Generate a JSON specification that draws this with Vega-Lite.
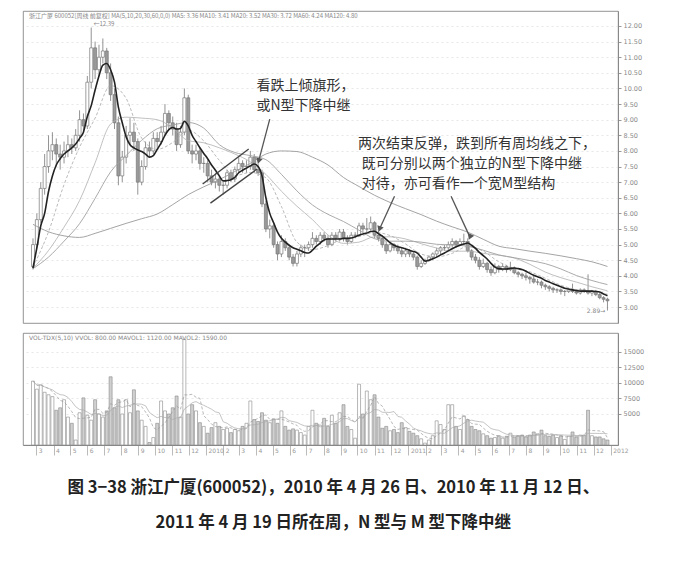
{
  "$schema": "https://vega.github.io/schema/vega-lite/v6.json",
  "background": "white",
  "padding": {"left": 22, "top": 10, "right": 8, "bottom": 5},
  "spacing": 8,
  "config": {
    "view": {"stroke": "#777", "strokeWidth": 0.8},
    "font": "DejaVu Sans",
    "axis": {"labelOverlap": false, "labelBound": false}
  },
  "title": {
    "text": ["图 3−38   浙江广厦(600052)，2010 年 4 月 26 日、2010 年 11 月 12 日、", "2011 年 4 月 19 日所在周，N 型与 M 型下降中继"],
    "orient": "bottom",
    "anchor": "middle",
    "font": "Noto Sans CJK SC",
    "fontSize": 16.5,
    "fontWeight": "bold",
    "color": "#222",
    "lineHeight": 35,
    "offset": 24
  },
  "datasets": {
    "weeks": [
      {"d":"2009-02-23","o":4.3,"h":5.2,"l":4.2,"c":5.0,"v":10300,"ma5":4.25},
      {"d":"2009-03-02","o":5.0,"h":6.0,"l":4.9,"c":5.8,"v":9000,"ma5":4.9},
      {"d":"2009-03-09","o":5.8,"h":7.0,"l":5.7,"c":6.8,"v":9700,"ma5":5.6},
      {"d":"2009-03-16","o":6.8,"h":7.9,"l":6.6,"c":7.5,"v":8500,"ma5":6.0},
      {"d":"2009-03-23","o":7.5,"h":8.5,"l":7.3,"c":8.0,"v":8100,"ma5":6.7},
      {"d":"2009-03-30","o":8.0,"h":8.6,"l":7.7,"c":8.2,"v":7800,"ma5":7.2},
      {"d":"2009-04-06","o":8.2,"h":8.4,"l":7.5,"c":7.9,"v":5600,"ma5":7.55},
      {"d":"2009-04-13","o":7.9,"h":8.2,"l":7.4,"c":7.8,"v":6000,"ma5":7.75},
      {"d":"2009-04-20","o":7.8,"h":8.3,"l":7.6,"c":8.0,"v":7300,"ma5":7.9},
      {"d":"2009-04-27","o":8.0,"h":8.5,"l":7.8,"c":8.2,"v":4500,"ma5":8.0},
      {"d":"2009-05-04","o":8.2,"h":8.4,"l":7.9,"c":8.1,"v":3500,"ma5":8.1},
      {"d":"2009-05-11","o":8.1,"h":8.7,"l":8.0,"c":8.5,"v":800,"ma5":8.22},
      {"d":"2009-05-18","o":8.5,"h":9.3,"l":8.3,"c":9.0,"v":5200,"ma5":8.4},
      {"d":"2009-05-25","o":9.0,"h":9.2,"l":8.6,"c":8.8,"v":7600,"ma5":8.6},
      {"d":"2009-06-01","o":8.8,"h":10.4,"l":8.7,"c":10.2,"v":4800,"ma5":9.1},
      {"d":"2009-06-08","o":10.2,"h":11.95,"l":10.0,"c":11.3,"v":4000,"ma5":9.45},
      {"d":"2009-06-15","o":11.3,"h":11.5,"l":10.3,"c":10.6,"v":7300,"ma5":9.95},
      {"d":"2009-06-22","o":10.6,"h":11.4,"l":10.4,"c":11.0,"v":5000,"ma5":10.4},
      {"d":"2009-06-29","o":11.0,"h":11.6,"l":10.8,"c":11.2,"v":4500,"ma5":10.75},
      {"d":"2009-07-06","o":11.2,"h":11.3,"l":10.3,"c":10.5,"v":5500,"ma5":10.8},
      {"d":"2009-07-13","o":10.5,"h":10.8,"l":9.6,"c":9.8,"v":11000,"ma5":10.6},
      {"d":"2009-07-20","o":9.8,"h":10.0,"l":8.7,"c":8.9,"v":6000,"ma5":10.2},
      {"d":"2009-07-27","o":8.9,"h":9.1,"l":6.9,"c":7.2,"v":7300,"ma5":9.4},
      {"d":"2009-08-03","o":7.2,"h":8.0,"l":7.0,"c":7.8,"v":5000,"ma5":8.9},
      {"d":"2009-08-10","o":7.8,"h":8.8,"l":7.6,"c":8.5,"v":7300,"ma5":8.45},
      {"d":"2009-08-17","o":8.5,"h":9.05,"l":8.2,"c":8.6,"v":5200,"ma5":8.2},
      {"d":"2009-08-24","o":8.6,"h":8.9,"l":8.0,"c":8.3,"v":8900,"ma5":8.1},
      {"d":"2009-08-31","o":8.3,"h":8.4,"l":6.6,"c":7.0,"v":5500,"ma5":8.03},
      {"d":"2009-09-07","o":7.0,"h":7.7,"l":6.9,"c":7.5,"v":4000,"ma5":7.98},
      {"d":"2009-09-14","o":7.5,"h":8.3,"l":7.4,"c":8.1,"v":3000,"ma5":7.9},
      {"d":"2009-09-21","o":8.1,"h":8.3,"l":7.8,"c":8.0,"v":400,"ma5":7.8},
      {"d":"2009-09-28","o":8.0,"h":8.6,"l":7.9,"c":8.4,"v":1200,"ma5":7.85},
      {"d":"2009-10-05","o":8.4,"h":8.6,"l":8.1,"c":8.3,"v":3500,"ma5":8.05},
      {"d":"2009-10-12","o":8.3,"h":8.8,"l":8.2,"c":8.6,"v":7100,"ma5":8.25},
      {"d":"2009-10-19","o":8.6,"h":9.5,"l":8.5,"c":9.2,"v":5500,"ma5":8.5},
      {"d":"2009-10-26","o":9.2,"h":9.3,"l":8.7,"c":8.9,"v":5000,"ma5":8.68},
      {"d":"2009-11-02","o":8.9,"h":9.1,"l":8.5,"c":8.7,"v":6000,"ma5":8.75},
      {"d":"2009-11-09","o":8.7,"h":8.9,"l":8.0,"c":8.2,"v":7900,"ma5":8.7},
      {"d":"2009-11-16","o":8.2,"h":8.8,"l":8.1,"c":8.6,"v":4500,"ma5":8.72},
      {"d":"2009-11-23","o":8.6,"h":10.0,"l":8.5,"c":9.7,"v":17000,"ma5":8.95},
      {"d":"2009-11-30","o":9.7,"h":9.8,"l":7.9,"c":8.0,"v":5000,"ma5":8.8},
      {"d":"2009-12-07","o":8.0,"h":8.2,"l":7.6,"c":7.9,"v":6500,"ma5":8.5},
      {"d":"2009-12-14","o":7.9,"h":8.2,"l":7.7,"c":8.0,"v":5500,"ma5":8.3},
      {"d":"2009-12-21","o":8.0,"h":8.1,"l":7.4,"c":7.6,"v":3600,"ma5":8.1},
      {"d":"2009-12-28","o":7.6,"h":7.8,"l":7.3,"c":7.6,"v":3000,"ma5":7.92},
      {"d":"2010-01-04","o":7.6,"h":7.7,"l":7.0,"c":7.2,"v":1900,"ma5":7.75},
      {"d":"2010-01-11","o":7.2,"h":7.4,"l":6.9,"c":7.0,"v":2800,"ma5":7.55},
      {"d":"2010-01-18","o":7.0,"h":7.3,"l":6.8,"c":7.1,"v":3600,"ma5":7.38},
      {"d":"2010-01-25","o":7.1,"h":7.2,"l":6.7,"c":6.9,"v":3000,"ma5":7.2},
      {"d":"2010-02-01","o":6.9,"h":7.0,"l":6.6,"c":6.9,"v":2500,"ma5":7.04},
      {"d":"2010-02-08","o":6.9,"h":7.4,"l":6.8,"c":7.3,"v":2700,"ma5":7.05},
      {"d":"2010-02-15","o":7.3,"h":7.4,"l":7.0,"c":7.1,"v":2000,"ma5":7.08},
      {"d":"2010-02-22","o":7.1,"h":7.5,"l":7.0,"c":7.4,"v":2500,"ma5":7.15},
      {"d":"2010-03-01","o":7.4,"h":7.8,"l":7.3,"c":7.6,"v":2300,"ma5":7.3},
      {"d":"2010-03-08","o":7.6,"h":7.7,"l":7.3,"c":7.5,"v":3000,"ma5":7.38},
      {"d":"2010-03-15","o":7.5,"h":7.7,"l":7.3,"c":7.5,"v":3500,"ma5":7.45},
      {"d":"2010-03-22","o":7.5,"h":8.0,"l":7.4,"c":7.8,"v":7100,"ma5":7.52},
      {"d":"2010-03-29","o":7.8,"h":7.9,"l":7.3,"c":7.4,"v":4100,"ma5":7.58},
      {"d":"2010-04-05","o":7.4,"h":7.6,"l":7.2,"c":7.3,"v":3800,"ma5":7.5},
      {"d":"2010-04-12","o":7.3,"h":7.4,"l":6.2,"c":6.3,"v":5200,"ma5":7.2},
      {"d":"2010-04-19","o":6.3,"h":6.4,"l":5.4,"c":5.5,"v":4000,"ma5":6.5},
      {"d":"2010-04-26","o":5.5,"h":5.8,"l":5.2,"c":5.6,"v":3600,"ma5":6.0},
      {"d":"2010-05-03","o":5.6,"h":5.7,"l":4.9,"c":5.0,"v":4200,"ma5":5.7},
      {"d":"2010-05-10","o":5.0,"h":5.1,"l":4.5,"c":4.7,"v":3500,"ma5":5.4},
      {"d":"2010-05-17","o":4.7,"h":5.3,"l":4.6,"c":5.1,"v":5500,"ma5":5.2},
      {"d":"2010-05-24","o":5.1,"h":5.2,"l":4.8,"c":4.9,"v":3000,"ma5":5.08},
      {"d":"2010-05-31","o":4.9,"h":5.0,"l":4.5,"c":4.6,"v":2400,"ma5":4.98},
      {"d":"2010-06-07","o":4.6,"h":4.7,"l":4.3,"c":4.4,"v":2600,"ma5":4.9},
      {"d":"2010-06-14","o":4.4,"h":4.8,"l":4.3,"c":4.7,"v":2400,"ma5":4.85},
      {"d":"2010-06-21","o":4.7,"h":5.0,"l":4.6,"c":4.9,"v":2000,"ma5":4.8},
      {"d":"2010-06-28","o":4.9,"h":5.0,"l":4.6,"c":4.9,"v":1600,"ma5":4.75},
      {"d":"2010-07-05","o":4.9,"h":5.1,"l":4.8,"c":5.0,"v":3000,"ma5":4.73},
      {"d":"2010-07-12","o":5.0,"h":5.4,"l":4.9,"c":5.2,"v":5600,"ma5":4.82},
      {"d":"2010-07-19","o":5.2,"h":5.3,"l":5.0,"c":5.1,"v":3500,"ma5":4.95},
      {"d":"2010-07-26","o":5.1,"h":5.4,"l":5.0,"c":5.3,"v":3200,"ma5":5.05},
      {"d":"2010-08-02","o":5.3,"h":5.4,"l":5.1,"c":5.2,"v":4300,"ma5":5.15},
      {"d":"2010-08-09","o":5.2,"h":5.3,"l":4.9,"c":5.0,"v":3000,"ma5":5.18},
      {"d":"2010-08-16","o":5.0,"h":5.4,"l":4.95,"c":5.3,"v":4800,"ma5":5.18},
      {"d":"2010-08-23","o":5.3,"h":5.4,"l":5.1,"c":5.2,"v":3500,"ma5":5.18},
      {"d":"2010-08-30","o":5.2,"h":5.5,"l":5.1,"c":5.4,"v":5200,"ma5":5.18},
      {"d":"2010-09-06","o":5.4,"h":5.5,"l":5.1,"c":5.2,"v":6500,"ma5":5.2},
      {"d":"2010-09-13","o":5.2,"h":5.3,"l":5.0,"c":5.1,"v":3000,"ma5":5.2},
      {"d":"2010-09-20","o":5.1,"h":5.4,"l":5.05,"c":5.3,"v":2500,"ma5":5.21},
      {"d":"2010-09-27","o":5.3,"h":5.4,"l":5.2,"c":5.3,"v":1100,"ma5":5.25},
      {"d":"2010-10-04","o":5.3,"h":5.7,"l":5.25,"c":5.6,"v":9800,"ma5":5.3},
      {"d":"2010-10-11","o":5.6,"h":5.7,"l":5.4,"c":5.5,"v":5000,"ma5":5.34},
      {"d":"2010-10-18","o":5.5,"h":5.85,"l":5.4,"c":5.5,"v":8700,"ma5":5.37},
      {"d":"2010-10-25","o":5.5,"h":5.9,"l":5.45,"c":5.7,"v":7300,"ma5":5.42},
      {"d":"2010-11-01","o":5.7,"h":5.75,"l":5.2,"c":5.3,"v":8100,"ma5":5.43},
      {"d":"2010-11-08","o":5.3,"h":5.45,"l":5.1,"c":5.2,"v":4500,"ma5":5.35},
      {"d":"2010-11-15","o":5.2,"h":5.3,"l":4.9,"c":5.0,"v":2700,"ma5":5.27},
      {"d":"2010-11-22","o":5.0,"h":5.1,"l":4.7,"c":4.8,"v":3000,"ma5":5.17},
      {"d":"2010-11-29","o":4.8,"h":5.1,"l":4.75,"c":5.0,"v":2300,"ma5":5.06},
      {"d":"2010-12-06","o":5.0,"h":5.05,"l":4.8,"c":4.9,"v":2500,"ma5":4.98},
      {"d":"2010-12-13","o":4.9,"h":5.0,"l":4.7,"c":4.8,"v":2000,"ma5":4.93},
      {"d":"2010-12-20","o":4.8,"h":4.9,"l":4.6,"c":4.7,"v":3600,"ma5":4.9},
      {"d":"2010-12-27","o":4.7,"h":4.9,"l":4.6,"c":4.8,"v":2800,"ma5":4.86},
      {"d":"2011-01-03","o":4.8,"h":4.85,"l":4.6,"c":4.7,"v":2200,"ma5":4.82},
      {"d":"2011-01-10","o":4.7,"h":4.75,"l":4.5,"c":4.6,"v":1900,"ma5":4.78},
      {"d":"2011-01-17","o":4.6,"h":4.65,"l":4.2,"c":4.3,"v":1500,"ma5":4.73},
      {"d":"2011-01-24","o":4.3,"h":4.5,"l":4.25,"c":4.4,"v":1000,"ma5":4.6},
      {"d":"2011-01-31","o":4.4,"h":4.55,"l":4.35,"c":4.5,"v":300,"ma5":4.47},
      {"d":"2011-02-07","o":4.5,"h":4.65,"l":4.45,"c":4.6,"v":800,"ma5":4.5},
      {"d":"2011-02-14","o":4.6,"h":4.75,"l":4.5,"c":4.7,"v":1500,"ma5":4.55},
      {"d":"2011-02-21","o":4.7,"h":4.9,"l":4.6,"c":4.8,"v":3900,"ma5":4.6},
      {"d":"2011-02-28","o":4.8,"h":4.95,"l":4.7,"c":4.9,"v":3300,"ma5":4.67},
      {"d":"2011-03-07","o":4.9,"h":5.0,"l":4.8,"c":4.9,"v":2500,"ma5":4.73},
      {"d":"2011-03-14","o":4.9,"h":5.1,"l":4.8,"c":5.0,"v":6500,"ma5":4.8},
      {"d":"2011-03-21","o":5.0,"h":5.2,"l":4.9,"c":5.1,"v":6500,"ma5":4.87},
      {"d":"2011-03-28","o":5.1,"h":5.15,"l":4.9,"c":5.0,"v":3000,"ma5":4.93},
      {"d":"2011-04-04","o":5.0,"h":5.2,"l":4.95,"c":5.1,"v":2500,"ma5":4.98},
      {"d":"2011-04-11","o":5.1,"h":5.35,"l":5.0,"c":5.1,"v":4700,"ma5":5.02},
      {"d":"2011-04-18","o":5.1,"h":5.2,"l":4.75,"c":4.8,"v":4100,"ma5":5.05},
      {"d":"2011-04-25","o":4.8,"h":4.85,"l":4.5,"c":4.6,"v":3000,"ma5":4.98},
      {"d":"2011-05-02","o":4.6,"h":4.7,"l":4.4,"c":4.5,"v":2500,"ma5":4.88},
      {"d":"2011-05-09","o":4.5,"h":4.6,"l":4.2,"c":4.3,"v":2300,"ma5":4.75},
      {"d":"2011-05-16","o":4.3,"h":4.55,"l":4.25,"c":4.4,"v":1800,"ma5":4.65},
      {"d":"2011-05-23","o":4.4,"h":4.45,"l":4.1,"c":4.2,"v":1500,"ma5":4.54},
      {"d":"2011-05-30","o":4.2,"h":4.3,"l":4.0,"c":4.1,"v":1100,"ma5":4.4},
      {"d":"2011-06-06","o":4.1,"h":4.4,"l":4.05,"c":4.3,"v":1200,"ma5":4.28},
      {"d":"2011-06-13","o":4.3,"h":4.35,"l":4.1,"c":4.2,"v":1500,"ma5":4.23},
      {"d":"2011-06-20","o":4.2,"h":4.4,"l":4.15,"c":4.3,"v":1100,"ma5":4.22},
      {"d":"2011-06-27","o":4.3,"h":4.35,"l":4.1,"c":4.2,"v":1400,"ma5":4.22},
      {"d":"2011-07-04","o":4.2,"h":4.45,"l":4.15,"c":4.25,"v":1900,"ma5":4.24},
      {"d":"2011-07-11","o":4.25,"h":4.3,"l":4.05,"c":4.1,"v":1300,"ma5":4.25},
      {"d":"2011-07-18","o":4.1,"h":4.15,"l":3.95,"c":4.05,"v":1500,"ma5":4.23},
      {"d":"2011-07-25","o":4.05,"h":4.1,"l":3.9,"c":4.0,"v":1600,"ma5":4.2},
      {"d":"2011-08-01","o":4.0,"h":4.1,"l":3.85,"c":3.95,"v":1300,"ma5":4.15},
      {"d":"2011-08-08","o":3.95,"h":4.0,"l":3.75,"c":3.9,"v":1600,"ma5":4.08},
      {"d":"2011-08-15","o":3.9,"h":4.0,"l":3.75,"c":3.8,"v":2100,"ma5":4.02},
      {"d":"2011-08-22","o":3.8,"h":3.9,"l":3.7,"c":3.8,"v":1800,"ma5":3.97},
      {"d":"2011-08-29","o":3.8,"h":3.85,"l":3.6,"c":3.7,"v":2400,"ma5":3.92},
      {"d":"2011-09-05","o":3.7,"h":3.75,"l":3.55,"c":3.65,"v":1500,"ma5":3.85},
      {"d":"2011-09-12","o":3.65,"h":3.7,"l":3.5,"c":3.6,"v":1400,"ma5":3.8},
      {"d":"2011-09-19","o":3.6,"h":3.65,"l":3.45,"c":3.55,"v":1600,"ma5":3.75},
      {"d":"2011-09-26","o":3.55,"h":3.6,"l":3.45,"c":3.55,"v":1200,"ma5":3.7},
      {"d":"2011-10-03","o":3.55,"h":3.6,"l":3.4,"c":3.5,"v":1500,"ma5":3.65},
      {"d":"2011-10-10","o":3.5,"h":3.55,"l":3.35,"c":3.5,"v":900,"ma5":3.6},
      {"d":"2011-10-17","o":3.5,"h":3.6,"l":3.45,"c":3.55,"v":1400,"ma5":3.58},
      {"d":"2011-10-24","o":3.55,"h":3.75,"l":3.45,"c":3.5,"v":2100,"ma5":3.55},
      {"d":"2011-10-31","o":3.5,"h":3.55,"l":3.4,"c":3.45,"v":1300,"ma5":3.53},
      {"d":"2011-11-07","o":3.45,"h":3.6,"l":3.4,"c":3.55,"v":1600,"ma5":3.51},
      {"d":"2011-11-14","o":3.55,"h":3.6,"l":3.45,"c":3.5,"v":1600,"ma5":3.51},
      {"d":"2011-11-21","o":3.5,"h":4.05,"l":3.4,"c":3.45,"v":5600,"ma5":3.51},
      {"d":"2011-11-28","o":3.45,"h":3.55,"l":3.35,"c":3.5,"v":1500,"ma5":3.51},
      {"d":"2011-12-05","o":3.5,"h":3.55,"l":3.35,"c":3.4,"v":1300,"ma5":3.5},
      {"d":"2011-12-12","o":3.4,"h":3.45,"l":3.25,"c":3.3,"v":1300,"ma5":3.48},
      {"d":"2011-12-19","o":3.3,"h":3.35,"l":3.15,"c":3.25,"v":1000,"ma5":3.42},
      {"d":"2011-12-26","o":3.25,"h":3.3,"l":2.89,"c":3.2,"v":800,"ma5":3.36}
    ],
    "ma": [
      {"d":"2009-02-23","ma10":4.28,"ma20":4.24,"ma30":4.23,"ma60":5.65},
      {"d":"2009-03-23","ma10":5.41,"ma20":4.81,"ma30":4.6,"ma60":5.41},
      {"d":"2009-04-20","ma10":6.92,"ma20":5.56,"ma30":5.11,"ma60":5.28},
      {"d":"2009-05-18","ma10":8.12,"ma20":6.41,"ma30":5.67,"ma60":5.23},
      {"d":"2009-06-15","ma10":9.05,"ma20":7.62,"ma30":6.48,"ma60":5.36},
      {"d":"2009-07-13","ma10":10.09,"ma20":8.86,"ma30":7.33,"ma60":5.52},
      {"d":"2009-08-10","ma10":9.68,"ma20":9.08,"ma30":7.85,"ma60":5.68},
      {"d":"2009-09-07","ma10":8.41,"ma20":9.05,"ma30":8.34,"ma60":5.83},
      {"d":"2009-10-05","ma10":8.05,"ma20":9.0,"ma30":8.71,"ma60":5.98},
      {"d":"2009-11-02","ma10":8.27,"ma20":8.73,"ma30":8.83,"ma60":6.28},
      {"d":"2009-11-30","ma10":8.66,"ma20":8.33,"ma30":8.91,"ma60":6.6},
      {"d":"2009-12-28","ma10":8.32,"ma20":8.26,"ma30":8.73,"ma60":6.85},
      {"d":"2010-01-25","ma10":7.7,"ma20":8.1,"ma30":8.2,"ma60":7.08},
      {"d":"2010-02-22","ma10":7.21,"ma20":7.9,"ma30":7.95,"ma60":7.34},
      {"d":"2010-03-22","ma10":7.31,"ma20":7.65,"ma30":7.85,"ma60":7.6},
      {"d":"2010-04-19","ma10":7.14,"ma20":7.25,"ma30":7.72,"ma60":7.9},
      {"d":"2010-05-17","ma10":6.22,"ma20":6.71,"ma30":7.25,"ma60":8.0},
      {"d":"2010-06-14","ma10":5.08,"ma20":6.23,"ma30":6.72,"ma60":7.98},
      {"d":"2010-07-12","ma10":4.84,"ma20":5.8,"ma30":6.27,"ma60":7.8},
      {"d":"2010-08-09","ma10":4.97,"ma20":5.31,"ma30":5.97,"ma60":7.55},
      {"d":"2010-09-06","ma10":5.19,"ma20":5.04,"ma30":5.74,"ma60":7.15},
      {"d":"2010-10-04","ma10":5.26,"ma20":5.08,"ma30":5.46,"ma60":6.86},
      {"d":"2010-11-01","ma10":5.39,"ma20":5.25,"ma30":5.19,"ma60":6.58},
      {"d":"2010-11-29","ma10":5.29,"ma20":5.25,"ma30":5.11,"ma60":6.35},
      {"d":"2010-12-27","ma10":5.02,"ma20":5.18,"ma30":5.11,"ma60":6.15},
      {"d":"2011-01-24","ma10":4.7,"ma20":5.03,"ma30":5.08,"ma60":5.96},
      {"d":"2011-02-21","ma10":4.61,"ma20":4.89,"ma30":5.01,"ma60":5.75},
      {"d":"2011-03-21","ma10":4.72,"ma20":4.79,"ma30":4.99,"ma60":5.57},
      {"d":"2011-04-18","ma10":4.94,"ma20":4.79,"ma30":4.95,"ma60":5.4},
      {"d":"2011-05-16","ma10":4.79,"ma20":4.72,"ma30":4.82,"ma60":5.17},
      {"d":"2011-06-13","ma10":4.45,"ma20":4.66,"ma30":4.67,"ma60":4.95},
      {"d":"2011-07-11","ma10":4.24,"ma20":4.57,"ma30":4.58,"ma60":4.87},
      {"d":"2011-08-08","ma10":4.13,"ma20":4.37,"ma30":4.49,"ma60":4.79},
      {"d":"2011-09-05","ma10":3.92,"ma20":4.12,"ma30":4.39,"ma60":4.72},
      {"d":"2011-10-03","ma10":3.7,"ma20":3.94,"ma30":4.22,"ma60":4.64},
      {"d":"2011-10-31","ma10":3.56,"ma20":3.8,"ma30":4.01,"ma60":4.55},
      {"d":"2011-11-28","ma10":3.51,"ma20":3.65,"ma30":3.85,"ma60":4.45},
      {"d":"2011-12-26","ma10":3.41,"ma20":3.52,"ma30":3.72,"ma60":4.3}
    ],
    "notes": [
      {"d":"2010-04-02","p":10.08,"t":"看跌上倾旗形，"},
      {"d":"2010-04-02","p":9.44,"t":"或N型下降中继"},
      {"d":"2010-10-02","p":8.22,"t":"两次结束反弹，跌到所有周均线之下，"},
      {"d":"2010-10-09","p":7.58,"t":"既可分别以两个独立的N型下降中继"},
      {"d":"2010-10-09","p":6.94,"t":"对待，亦可看作一个宽M型结构"}
    ],
    "arrows": [
      {"id":"a","d":"2010-04-26","p":9.02,"d2":"2010-04-06","p2":7.68},
      {"id":"b","d":"2010-12-07","p":6.55,"d2":"2010-11-10","p2":5.5},
      {"id":"c","d":"2011-03-19","p":6.55,"d2":"2011-04-22","p2":5.24}
    ],
    "flag": [
      {"d":"2009-12-26","p":6.94,"d2":"2010-03-19","p2":8.06},
      {"d":"2010-01-09","p":6.33,"d2":"2010-04-03","p2":7.42}
    ]
  },
  "vconcat": [
    {
      "width": 595,
      "height": 312,
      "encoding": {
        "x": {
          "field": "d",
          "type": "temporal",
          "scale": {"type": "utc", "domain": [{"year": 2009, "month": 2, "date": 14, "utc": true}, {"year": 2012, "month": 1, "date": 5, "utc": true}]},
          "axis": null
        }
      },
      "layer": [
        {
          "data": {"name": "weeks"},
          "mark": {"type": "rule", "stroke": "#777", "strokeWidth": 0.8},
          "encoding": {
            "y": {
              "field": "l",
              "type": "quantitative",
              "title": null,
              "scale": {"domain": [2.49, 12.48], "nice": false, "zero": false},
              "axis": {"orient": "right", "values": [3, 3.5, 4, 4.5, 5, 5.5, 6, 6.5, 7, 7.5, 8, 8.5, 9, 9.5, 10, 10.5, 11, 11.5, 12], "format": ".2f", "labelOverlap": false, "labelFontSize": 6.5, "labelColor": "#8a8a8a", "labelPadding": 2, "tickSize": 3, "tickColor": "#999", "domainColor": "#888", "grid": true, "gridColor": "#d6d6d6", "gridDash": [2, 3], "gridWidth": 0.6}
            },
            "y2": {"field": "h"}
          }
        },
        {
          "data": {"name": "weeks"},
          "mark": {"type": "bar", "size": 3, "strokeWidth": 0.7},
          "encoding": {
            "y": {"field": "o", "type": "quantitative", "title": null, "axis": {"orient": "right", "values": [3, 3.5, 4, 4.5, 5, 5.5, 6, 6.5, 7, 7.5, 8, 8.5, 9, 9.5, 10, 10.5, 11, 11.5, 12], "format": ".2f", "labelOverlap": false, "labelFontSize": 6.5, "labelColor": "#8a8a8a", "labelPadding": 2, "tickSize": 3, "tickColor": "#999", "domainColor": "#888", "grid": true, "gridColor": "#d6d6d6", "gridDash": [2, 3], "gridWidth": 0.6}},
            "y2": {"field": "c"},
            "fill": {"condition": {"test": "datum.c >= datum.o", "value": "white"}, "value": "#9a9a9a"},
            "stroke": {"value": "#777"}
          }
        },
        {
          "data": {"name": "ma"},
          "mark": {"type": "line", "stroke": "#a8a8a8", "strokeWidth": 0.8, "strokeDash": [3, 2], "interpolate": "monotone"},
          "encoding": {"y": {"field": "ma10", "type": "quantitative", "title": null, "axis": {"orient": "right", "values": [3, 3.5, 4, 4.5, 5, 5.5, 6, 6.5, 7, 7.5, 8, 8.5, 9, 9.5, 10, 10.5, 11, 11.5, 12], "format": ".2f", "labelOverlap": false, "labelFontSize": 6.5, "labelColor": "#8a8a8a", "labelPadding": 2, "tickSize": 3, "tickColor": "#999", "domainColor": "#888", "grid": true, "gridColor": "#d6d6d6", "gridDash": [2, 3], "gridWidth": 0.6}}}
        },
        {
          "data": {"name": "ma"},
          "mark": {"type": "line", "stroke": "#b0b0b0", "strokeWidth": 0.8, "interpolate": "monotone"},
          "encoding": {"y": {"field": "ma20", "type": "quantitative", "title": null, "axis": {"orient": "right", "values": [3, 3.5, 4, 4.5, 5, 5.5, 6, 6.5, 7, 7.5, 8, 8.5, 9, 9.5, 10, 10.5, 11, 11.5, 12], "format": ".2f", "labelOverlap": false, "labelFontSize": 6.5, "labelColor": "#8a8a8a", "labelPadding": 2, "tickSize": 3, "tickColor": "#999", "domainColor": "#888", "grid": true, "gridColor": "#d6d6d6", "gridDash": [2, 3], "gridWidth": 0.6}}}
        },
        {
          "data": {"name": "ma"},
          "mark": {"type": "line", "stroke": "#a0a0a0", "strokeWidth": 0.9, "interpolate": "monotone"},
          "encoding": {"y": {"field": "ma30", "type": "quantitative", "title": null, "axis": {"orient": "right", "values": [3, 3.5, 4, 4.5, 5, 5.5, 6, 6.5, 7, 7.5, 8, 8.5, 9, 9.5, 10, 10.5, 11, 11.5, 12], "format": ".2f", "labelOverlap": false, "labelFontSize": 6.5, "labelColor": "#8a8a8a", "labelPadding": 2, "tickSize": 3, "tickColor": "#999", "domainColor": "#888", "grid": true, "gridColor": "#d6d6d6", "gridDash": [2, 3], "gridWidth": 0.6}}}
        },
        {
          "data": {"name": "ma"},
          "mark": {"type": "line", "stroke": "#9a9a9a", "strokeWidth": 0.9, "interpolate": "monotone"},
          "encoding": {"y": {"field": "ma60", "type": "quantitative", "title": null, "axis": {"orient": "right", "values": [3, 3.5, 4, 4.5, 5, 5.5, 6, 6.5, 7, 7.5, 8, 8.5, 9, 9.5, 10, 10.5, 11, 11.5, 12], "format": ".2f", "labelOverlap": false, "labelFontSize": 6.5, "labelColor": "#8a8a8a", "labelPadding": 2, "tickSize": 3, "tickColor": "#999", "domainColor": "#888", "grid": true, "gridColor": "#d6d6d6", "gridDash": [2, 3], "gridWidth": 0.6}}}
        },
        {
          "data": {"name": "weeks"},
          "mark": {"type": "line", "stroke": "#222", "strokeWidth": 1.6, "interpolate": "monotone"},
          "encoding": {"y": {"field": "ma5", "type": "quantitative", "title": null, "axis": {"orient": "right", "values": [3, 3.5, 4, 4.5, 5, 5.5, 6, 6.5, 7, 7.5, 8, 8.5, 9, 9.5, 10, 10.5, 11, 11.5, 12], "format": ".2f", "labelOverlap": false, "labelFontSize": 6.5, "labelColor": "#8a8a8a", "labelPadding": 2, "tickSize": 3, "tickColor": "#999", "domainColor": "#888", "grid": true, "gridColor": "#d6d6d6", "gridDash": [2, 3], "gridWidth": 0.6}}}
        },
        {
          "data": {"name": "flag"},
          "mark": {"type": "rule", "stroke": "#444", "strokeWidth": 1.4},
          "encoding": {
            "y": {"field": "p", "type": "quantitative", "title": null, "axis": {"orient": "right", "values": [3, 3.5, 4, 4.5, 5, 5.5, 6, 6.5, 7, 7.5, 8, 8.5, 9, 9.5, 10, 10.5, 11, 11.5, 12], "format": ".2f", "labelOverlap": false, "labelFontSize": 6.5, "labelColor": "#8a8a8a", "labelPadding": 2, "tickSize": 3, "tickColor": "#999", "domainColor": "#888", "grid": true, "gridColor": "#d6d6d6", "gridDash": [2, 3], "gridWidth": 0.6}},
            "x2": {"field": "d2"},
            "y2": {"field": "p2"}
          }
        },
        {
          "data": {"name": "arrows"},
          "mark": {"type": "rule", "stroke": "#555", "strokeWidth": 1.3},
          "encoding": {
            "y": {"field": "p", "type": "quantitative", "title": null, "axis": {"orient": "right", "values": [3, 3.5, 4, 4.5, 5, 5.5, 6, 6.5, 7, 7.5, 8, 8.5, 9, 9.5, 10, 10.5, 11, 11.5, 12], "format": ".2f", "labelOverlap": false, "labelFontSize": 6.5, "labelColor": "#8a8a8a", "labelPadding": 2, "tickSize": 3, "tickColor": "#999", "domainColor": "#888", "grid": true, "gridColor": "#d6d6d6", "gridDash": [2, 3], "gridWidth": 0.6}},
            "x2": {"field": "d2"},
            "y2": {"field": "p2"}
          }
        },
        {
          "data": {"name": "arrows"},
          "mark": {"type": "point", "shape": "triangle-up", "filled": true, "size": 45, "color": "#555", "opacity": 1},
          "encoding": {
            "x": {"field": "d2", "type": "temporal"},
            "y": {"field": "p2", "type": "quantitative", "title": null, "axis": {"orient": "right", "values": [3, 3.5, 4, 4.5, 5, 5.5, 6, 6.5, 7, 7.5, 8, 8.5, 9, 9.5, 10, 10.5, 11, 11.5, 12], "format": ".2f", "labelOverlap": false, "labelFontSize": 6.5, "labelColor": "#8a8a8a", "labelPadding": 2, "tickSize": 3, "tickColor": "#999", "domainColor": "#888", "grid": true, "gridColor": "#d6d6d6", "gridDash": [2, 3], "gridWidth": 0.6}},
            "angle": {"field": "id", "type": "nominal", "scale": {"domain": ["a", "b", "c"], "range": [195, 204, 155]}, "legend": null}
          }
        },
        {
          "data": {"name": "notes"},
          "mark": {"type": "text", "align": "left", "baseline": "middle", "font": "Noto Sans CJK SC", "fontSize": 14, "color": "#333"},
          "encoding": {
            "y": {"field": "p", "type": "quantitative", "title": null, "axis": {"orient": "right", "values": [3, 3.5, 4, 4.5, 5, 5.5, 6, 6.5, 7, 7.5, 8, 8.5, 9, 9.5, 10, 10.5, 11, 11.5, 12], "format": ".2f", "labelOverlap": false, "labelFontSize": 6.5, "labelColor": "#8a8a8a", "labelPadding": 2, "tickSize": 3, "tickColor": "#999", "domainColor": "#888", "grid": true, "gridColor": "#d6d6d6", "gridDash": [2, 3], "gridWidth": 0.6}},
            "text": {"field": "t"}
          }
        },
        {
          "data": {"values": [
            {"d": "2009-02-16", "p": 12.32, "t": "浙江广厦 600052[周线 前复权]  MA(5,10,20,30,60,0,0)  MA5: 3.36  MA10: 3.41  MA20: 3.52  MA30: 3.72  MA60: 4.24  MA120: 4.80"},
            {"d": "2009-06-12", "p": 12.05, "t": "←12.39"}
          ]},
          "mark": {"type": "text", "align": "left", "baseline": "middle", "font": "Noto Sans CJK SC", "fontSize": 6, "color": "#888"},
          "encoding": {
            "y": {"field": "p", "type": "quantitative", "title": null, "axis": {"orient": "right", "values": [3, 3.5, 4, 4.5, 5, 5.5, 6, 6.5, 7, 7.5, 8, 8.5, 9, 9.5, 10, 10.5, 11, 11.5, 12], "format": ".2f", "labelOverlap": false, "labelFontSize": 6.5, "labelColor": "#8a8a8a", "labelPadding": 2, "tickSize": 3, "tickColor": "#999", "domainColor": "#888", "grid": true, "gridColor": "#d6d6d6", "gridDash": [2, 3], "gridWidth": 0.6}},
            "text": {"field": "t"}
          }
        },
        {
          "data": {"values": [{"d": "2011-12-22", "p": 2.86, "t": "2.89→"}]},
          "mark": {"type": "text", "align": "right", "baseline": "middle", "fontSize": 6, "color": "#888"},
          "encoding": {
            "y": {"field": "p", "type": "quantitative", "title": null, "axis": {"orient": "right", "values": [3, 3.5, 4, 4.5, 5, 5.5, 6, 6.5, 7, 7.5, 8, 8.5, 9, 9.5, 10, 10.5, 11, 11.5, 12], "format": ".2f", "labelOverlap": false, "labelFontSize": 6.5, "labelColor": "#8a8a8a", "labelPadding": 2, "tickSize": 3, "tickColor": "#999", "domainColor": "#888", "grid": true, "gridColor": "#d6d6d6", "gridDash": [2, 3], "gridWidth": 0.6}},
            "text": {"field": "t"}
          }
        }
      ]
    },
    {
      "width": 595,
      "height": 112,
      "encoding": {
        "x": {
          "field": "d",
          "type": "temporal",
          "scale": {"type": "utc", "domain": [{"year": 2009, "month": 2, "date": 14, "utc": true}, {"year": 2012, "month": 1, "date": 5, "utc": true}]},
          "axis": {
            "orient": "bottom",
            "title": null,
            "tickCount": {"interval": "month", "step": 1},
            "labelExpr": "utcFormat(datum.value, '%m') == '01' ? utcFormat(datum.value, '%Y') : utcFormat(datum.value, '%-m')",
            "labelFontSize": 6,
            "labelColor": "#999",
            "labelAlign": "left",
            "labelOffset": 2,
            "labelPadding": -8,
            "labelBaseline": "top",
            "tickSize": 10,
            "tickColor": "#bbb",
            "domainColor": "#888",
            "grid": false
          }
        }
      },
      "layer": [
        {
          "data": {"name": "weeks"},
          "mark": {"type": "bar", "size": 3, "stroke": "#888", "strokeWidth": 0.6},
          "encoding": {
            "y": {
              "field": "v",
              "type": "quantitative",
              "title": null,
              "scale": {"domain": [0, 18060], "nice": false},
              "axis": {"orient": "right", "values": [5000, 7500, 10000, 12500, 15000], "format": "d", "labelOverlap": false, "labelFontSize": 6.5, "labelColor": "#8a8a8a", "labelPadding": 2, "tickSize": 3, "tickColor": "#999", "domainColor": "#888", "grid": true, "gridColor": "#d6d6d6", "gridDash": [2, 3], "gridWidth": 0.6}
            },
            "fill": {"condition": {"test": "datum.c >= datum.o", "value": "white"}, "value": "#d0d0d0"}
          }
        },
        {
          "data": {"name": "weeks"},
          "transform": [{"window": [{"op": "mean", "field": "v", "as": "m5"}], "frame": [-4, 0], "sort": [{"field": "d"}]}],
          "mark": {"type": "line", "stroke": "#999", "strokeWidth": 0.7, "strokeDash": [3, 2]},
          "encoding": {"y": {"field": "m5", "type": "quantitative", "title": null, "axis": {"orient": "right", "values": [5000, 7500, 10000, 12500, 15000], "format": "d", "labelOverlap": false, "labelFontSize": 6.5, "labelColor": "#8a8a8a", "labelPadding": 2, "tickSize": 3, "tickColor": "#999", "domainColor": "#888", "grid": true, "gridColor": "#d6d6d6", "gridDash": [2, 3], "gridWidth": 0.6}}}
        },
        {
          "data": {"name": "weeks"},
          "transform": [{"window": [{"op": "mean", "field": "v", "as": "m10"}], "frame": [-9, 0], "sort": [{"field": "d"}]}],
          "mark": {"type": "line", "stroke": "#aaa", "strokeWidth": 0.7},
          "encoding": {"y": {"field": "m10", "type": "quantitative", "title": null, "axis": {"orient": "right", "values": [5000, 7500, 10000, 12500, 15000], "format": "d", "labelOverlap": false, "labelFontSize": 6.5, "labelColor": "#8a8a8a", "labelPadding": 2, "tickSize": 3, "tickColor": "#999", "domainColor": "#888", "grid": true, "gridColor": "#d6d6d6", "gridDash": [2, 3], "gridWidth": 0.6}}}
        },
        {
          "data": {"values": [{"d": "2009-02-16", "v": 17300, "t": "VOL-TDX(5,10)  VVOL: 800.00  MAVOL1: 1120.00  MAVOL2: 1590.00"}]},
          "mark": {"type": "text", "align": "left", "baseline": "middle", "fontSize": 6, "color": "#888"},
          "encoding": {
            "y": {"field": "v", "type": "quantitative", "title": null, "axis": {"orient": "right", "values": [5000, 7500, 10000, 12500, 15000], "format": "d", "labelOverlap": false, "labelFontSize": 6.5, "labelColor": "#8a8a8a", "labelPadding": 2, "tickSize": 3, "tickColor": "#999", "domainColor": "#888", "grid": true, "gridColor": "#d6d6d6", "gridDash": [2, 3], "gridWidth": 0.6}},
            "text": {"field": "t"}
          }
        }
      ]
    }
  ]
}
